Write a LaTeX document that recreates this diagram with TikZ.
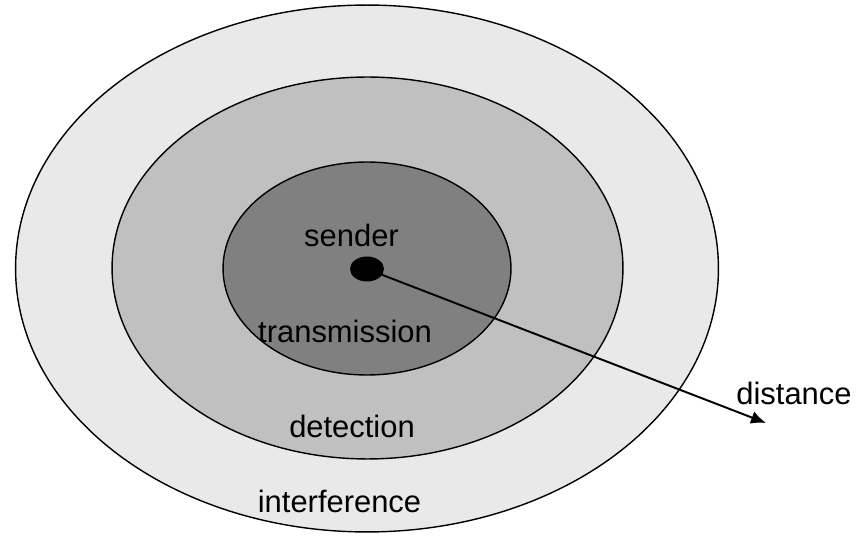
\documentclass[tikz,border=0pt]{standalone}
\usepackage{fontspec}
\setmainfont{Liberation Sans}
\usepackage{tikz}
\usetikzlibrary{arrows.meta,shapes.geometric,positioning}
\definecolor{farzone}{RGB}{233,233,233}
\definecolor{midzone}{RGB}{192,192,192}
\definecolor{nearzone}{RGB}{128,128,128}
\newcommand{\lbl}{\fontsize{17.6}{20}\selectfont}

\begin{document}
\begin{tikzpicture}[x=0.02cm,y=-0.02cm,
    zone/.style={ellipse,draw,line width=0.8pt,inner sep=0pt,outer sep=0pt},
    word/.style={anchor=base,inner sep=0pt,font=\lbl}]
  \useasboundingbox (0,0) rectangle (868,536);
  % the three ranges round the sender
  \node[zone,fill=farzone,minimum width=14.06cm,minimum height=10.54cm] (interf) at (367,268.5) {};
  \node[zone,fill=midzone,minimum width=10.22cm,minimum height=7.64cm] (detect) at (367.5,268) {};
  \node[zone,fill=nearzone,minimum width=5.76cm,minimum height=4.26cm] (trans) at (367,268.5) {};
  \node[ellipse,fill=black,inner sep=0pt,minimum width=0.68cm,minimum height=0.5cm] (dot) at (367,269) {};
  % labels
  \node[word] (sender) at (351.5,247) {sender};
  \node[word] (transl) at (345,343) {transmission};
  \node[word] (detl) at (352,438) {detection};
  \node[word] (intl) at (339.5,512) {interference};
  \node[word] (distl) at (794,404) {distance};
  \coordinate (far) at (766,423);
  \draw[line width=1.1pt,-{Latex[length=3mm,width=2.6mm]}] (dot.center) -- (far);
\end{tikzpicture}
\end{document}
